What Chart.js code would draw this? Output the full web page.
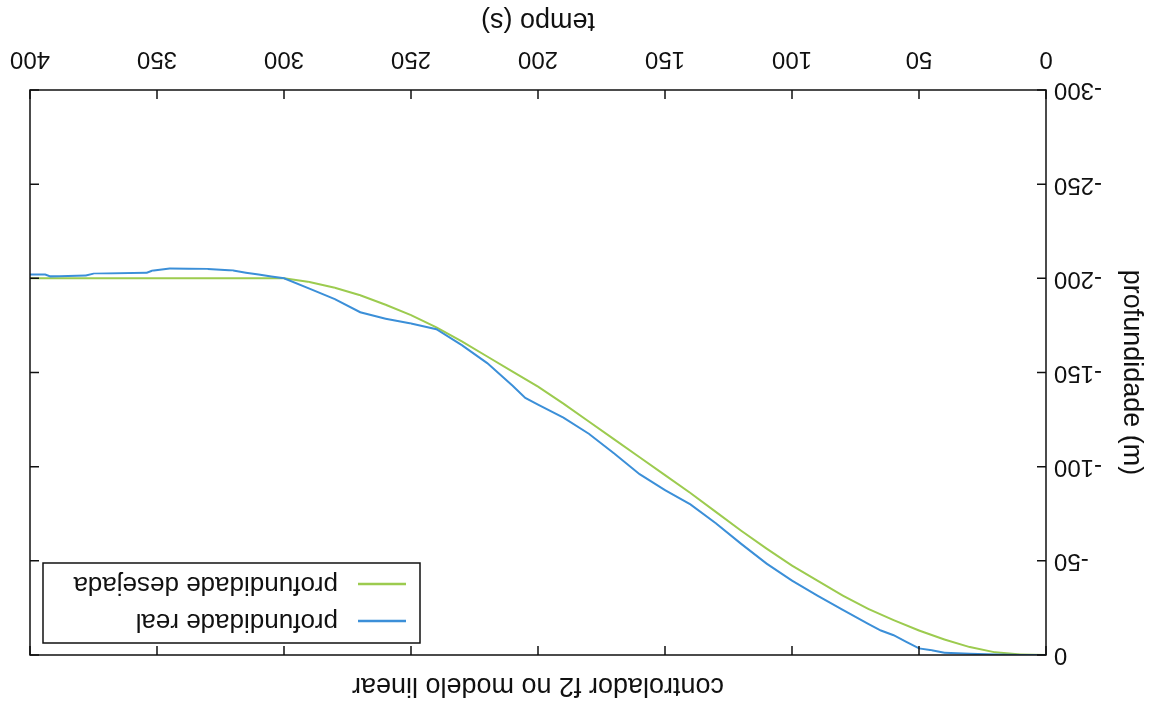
<!DOCTYPE html>
<html>
<head>
<meta charset="utf-8">
<script src="https://cdn.jsdelivr.net/npm/chart.js@4.4.1/dist/chart.umd.min.js"></script>
<style>
  html, body { margin: 0; padding: 0; background: #fff; }
  #wrap { width: 1150px; height: 702px; transform: rotate(180deg); }
</style>
</head>
<body>
<div id="wrap"><canvas id="depthChart" width="1150" height="702"></canvas></div>
<script>
// desired depth profile (s, m)
const tempoDesejada = [0, 10, 20, 30, 40, 50, 60, 70, 80, 90, 100, 110, 120, 130, 140, 150, 160, 170, 180, 190,
    200, 210, 220, 230, 240, 250, 260, 270, 280, 290, 300, 320, 340, 360, 380, 400];
const profDesejada = [0, -0.3, -1.4, -4.2, -8.2, -13, -18.5, -24.5, -31.5, -39.5, -47.5, -56.5, -66, -76, -86, -95.5, -105, -114.5, -124, -133.5,
    -142.5, -150.5, -158.5, -166.5, -174, -180.5, -186, -191, -195, -198, -200, -200, -200, -200, -200, -200];

// measured depth
const tempoReal = [0, 10, 20, 30, 40, 45, 50, 55, 60, 65, 70, 80, 90, 100, 110, 120, 130, 140, 150, 160, 170, 180, 190,
    200, 205, 210, 220, 230, 240, 250, 260, 270, 280, 290, 300, 305, 310, 315, 320, 330, 345, 352, 354, 375, 378, 392, 394, 400];
const profReal = [0, 0, -0.3, -0.6, -1.2, -2.5, -3.5, -7, -10.5, -13, -16.5, -24, -31.5, -39.5, -48.5, -59, -70, -80, -87.5, -96, -107, -117.5, -126,
    -133, -136.5, -143, -155, -164.5, -173, -176, -178.5, -182, -189, -194.5, -200, -201, -202, -203, -204.2, -205, -205.2, -204, -203, -202.5, -201.5, -201, -202, -202];

const xTicks = [0, 50, 100, 150, 200, 250, 300, 350, 400];
const yTicks = [-300, -250, -200, -150, -100, -50, 0];

const fontFamily = 'Liberation Sans, Arial, sans-serif';
const tickFont = { family: fontFamily, size: 24 };
const titleFont = { family: fontFamily, size: 27 };
const inkColor = '#111';

function toPoints(xs, ys) {
    return xs.map((t, i) => ({ x: t, y: ys[i] }));
}

// gnuplot style frame with inward ticks on all four sides, plus the title over the plot
const frameTicks = {
    id: 'frameTicks',
    afterDatasetsDraw(chart) {
        const { ctx, chartArea: a, scales } = chart;
        const len = 9;
        ctx.save();
        ctx.strokeStyle = inkColor;
        ctx.lineWidth = 1.5;
        ctx.strokeRect(a.left, a.top, a.right - a.left, a.bottom - a.top);
        ctx.beginPath();
        xTicks.forEach(v => {
            const px = scales.x.getPixelForValue(v);
            ctx.moveTo(px, a.bottom); ctx.lineTo(px, a.bottom - len);
            ctx.moveTo(px, a.top); ctx.lineTo(px, a.top + len);
        });
        yTicks.forEach(v => {
            const py = scales.y.getPixelForValue(v);
            ctx.moveTo(a.left, py); ctx.lineTo(a.left + len, py);
            ctx.moveTo(a.right, py); ctx.lineTo(a.right - len, py);
        });
        ctx.stroke();

        ctx.fillStyle = inkColor;
        ctx.font = titleFont.size + 'px ' + fontFamily;
        ctx.textAlign = 'center';
        ctx.textBaseline = 'middle';
        ctx.fillText('controlador f2 no modelo linear', (a.left + a.right) / 2, 17);
        ctx.restore();
    }
};

// key box inside the plot
const keyBox = {
    id: 'keyBox',
    afterDraw(chart) {
        const { ctx } = chart;
        const box = { x: 730, y: 59, w: 377, h: 80 };
        ctx.save();
        ctx.strokeStyle = inkColor;
        ctx.lineWidth = 1.5;
        ctx.strokeRect(box.x, box.y, box.w, box.h);
        ctx.font = '26px ' + fontFamily;
        ctx.textBaseline = 'middle';
        ctx.textAlign = 'left';
        chart.data.datasets.forEach((ds, i) => {
            const yy = box.y + 22 + i * 37;
            ctx.strokeStyle = ds.borderColor;
            ctx.lineWidth = 2.5;
            ctx.beginPath();
            ctx.moveTo(box.x + 14, yy);
            ctx.lineTo(box.x + 62, yy);
            ctx.stroke();
            ctx.fillStyle = inkColor;
            ctx.fillText(ds.label, box.x + 82, yy);
        });
        ctx.restore();
    }
};

new Chart(document.getElementById('depthChart'), {
    type: 'scatter',
    data: {
        datasets: [{
            label: 'profundidade real',
            data: toPoints(tempoReal, profReal),
            showLine: true,
            borderColor: '#3b8fd8',
            borderWidth: 2,
            pointRadius: 0
        }, {
            label: 'profundidade desejada',
            data: toPoints(tempoDesejada, profDesejada),
            showLine: true,
            borderColor: '#9ccb4f',
            borderWidth: 2,
            pointRadius: 0
        }]
    },
    options: {
        responsive: false,
        animation: false,
        layout: { padding: { left: 0, right: 30, top: 47, bottom: 0 } },
        plugins: {
            legend: { display: false },
            tooltip: { enabled: false },
            title: { display: false }
        },
        scales: {
            x: {
                type: 'linear',
                min: 0,
                max: 400,
                afterFit: s => { s.height = 90; s.paddingLeft = 0; s.paddingRight = 0; },
                afterBuildTicks: s => { s.ticks = xTicks.map(v => ({ value: v })); },
                grid: { display: false, drawTicks: false },
                border: { display: false },
                ticks: { color: inkColor, font: tickFont, padding: 17, maxRotation: 0 },
                title: { display: true, text: 'tempo (s)', color: inkColor, font: titleFont, padding: { top: 4, bottom: 4 } }
            },
            y: {
                type: 'linear',
                min: -300,
                max: 0,
                afterFit: s => { s.width = 104; s.paddingTop = 0; s.paddingBottom = 0; },
                afterBuildTicks: s => { s.ticks = yTicks.map(v => ({ value: v })); },
                grid: { display: false, drawTicks: false },
                border: { display: false },
                ticks: { color: inkColor, font: tickFont, padding: 8 },
                title: { display: true, text: 'profundidade (m)', color: inkColor, font: titleFont, padding: { top: 2, bottom: 4 } }
            }
        }
    },
    plugins: [frameTicks, keyBox]
});
</script>
</body>
</html>
